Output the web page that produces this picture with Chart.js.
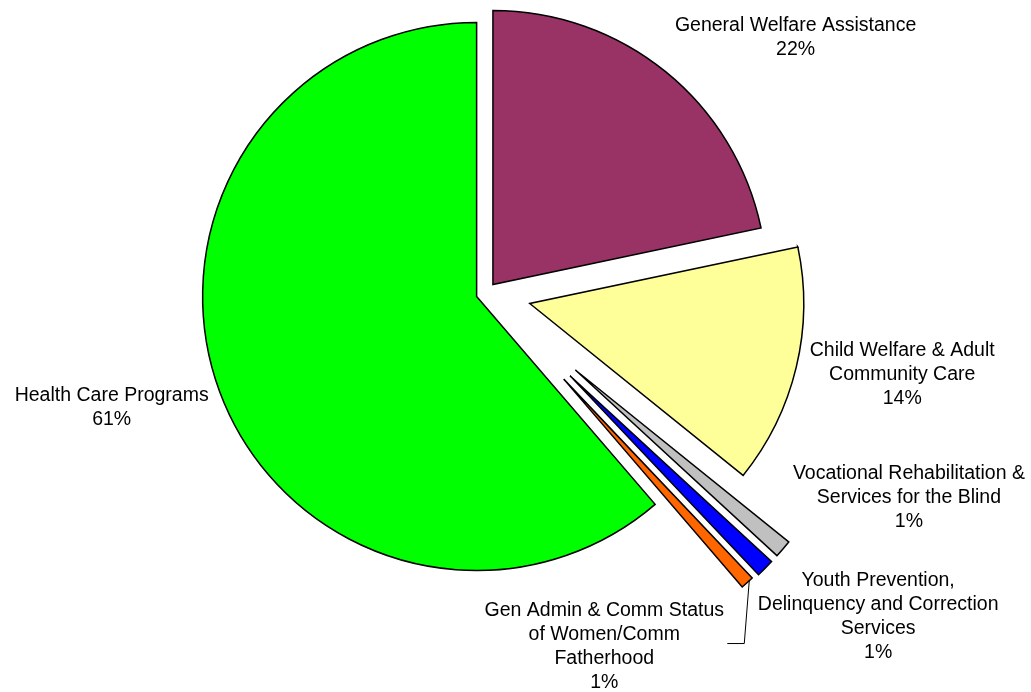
<!DOCTYPE html>
<html>
<head>
<meta charset="utf-8">
<script src="https://cdn.jsdelivr.net/npm/chart.js@4.4.0/dist/chart.umd.min.js"></script>
<style>
  body { margin: 0; background: #fff; }
  #wrap { width: 1031px; height: 692px; }
</style>
</head>
<body>
<div id="wrap"><canvas id="pieChart" width="1031" height="692"></canvas></div>
<script>
// share of spending by program area, clockwise from 12 o'clock
const categories = [
    ['General Welfare Assistance'],
    ['Child Welfare & Adult', 'Community Care'],
    ['Vocational Rehabilitation &', 'Services for the Blind'],
    ['Youth Prevention,', 'Delinquency and Correction', 'Services'],
    ['Gen Admin & Comm Status', 'of Women/Comm', 'Fatherhood'],
    ['Health Care Programs']
];
const shares = [21.7, 14.1, 1.05, 1.08, 0.78, 61.3];
const sliceColors = ['#993366', '#FFFF99', '#C0C0C0', '#0000FF', '#FF6600', '#00FF00'];

// how far each slice is pulled out (px)
const explode = [11, 45, 118, 118, 116, 10];
// label block position relative to the outer middle of its slice
const labelShift = [[130, -41], [106, -11], [126, -70], [113, 18], [-143, 33], [-108, 9]];

const R = 274;
const FONT = '19.5px "Liberation Sans", Arial, sans-serif';
const LINE_H = 24;

// chart.js makes an offset arc bigger and narrower, undo both so
// every slice keeps radius R and its true angle
const keepRadius = {
    id: 'keepRadius',
    afterDatasetUpdate(chart, args) {
        args.meta.data.forEach((arc, i) => {
            const off = explode[i];
            const fix = 1 - Math.sin(Math.min(Math.PI, arc.circumference));
            const ro = off * fix;
            arc.outerRadius = R - ro;
            const d = ro / (2 * Math.PI * R);
            arc.startAngle -= d;
            arc.endAngle += d;
        });
    }
};

const sliceLabels = {
    id: 'sliceLabels',
    afterDatasetsDraw(chart) {
        const ctx = chart.ctx;
        const arcs = chart.getDatasetMeta(0).data;
        const total = shares.reduce((a, b) => a + b, 0);
        ctx.save();
        ctx.font = FONT;
        ctx.fillStyle = '#000';
        ctx.textAlign = 'center';
        ctx.textBaseline = 'alphabetic';
        arcs.forEach((arc, i) => {
            const mid = (arc.startAngle + arc.endAngle) / 2;
            const dist = explode[i] + R;
            const px = arc.x + Math.cos(mid) * dist;
            const py = arc.y + Math.sin(mid) * dist;
            const lines = categories[i].concat(Math.round(shares[i] / total * 100) + '%');
            const cx = px + labelShift[i][0];
            const y0 = py + labelShift[i][1];
            lines.forEach((t, k) => ctx.fillText(t, cx, y0 + k * LINE_H));

            // Gen Admin gets a leader line
            if (i === 4) {
                ctx.strokeStyle = '#000';
                ctx.lineWidth = 1;
                ctx.beginPath();
                ctx.moveTo(px + 2, py - 2);
                ctx.lineTo(px - 3, py + 61);
                ctx.lineTo(px - 20, py + 61);
                ctx.stroke();
            }
        });
        ctx.restore();
    }
};

new Chart(document.getElementById('pieChart'), {
    type: 'pie',
    data: {
        labels: categories,
        datasets: [{
            data: shares,
            backgroundColor: sliceColors,
            borderColor: '#000',
            borderWidth: 1.5,
            borderJoinStyle: 'miter',
            offset: explode.map(e => e * 4)
        }]
    },
    options: {
        responsive: false,
        animation: false,
        events: [],
        radius: R,
        rotation: 0,
        layout: {
            padding: { left: 0, right: 59, top: 0, bottom: 106 }
        },
        plugins: {
            legend: { display: false },
            tooltip: { enabled: false }
        }
    },
    plugins: [keepRadius, sliceLabels]
});
</script>
</body>
</html>
